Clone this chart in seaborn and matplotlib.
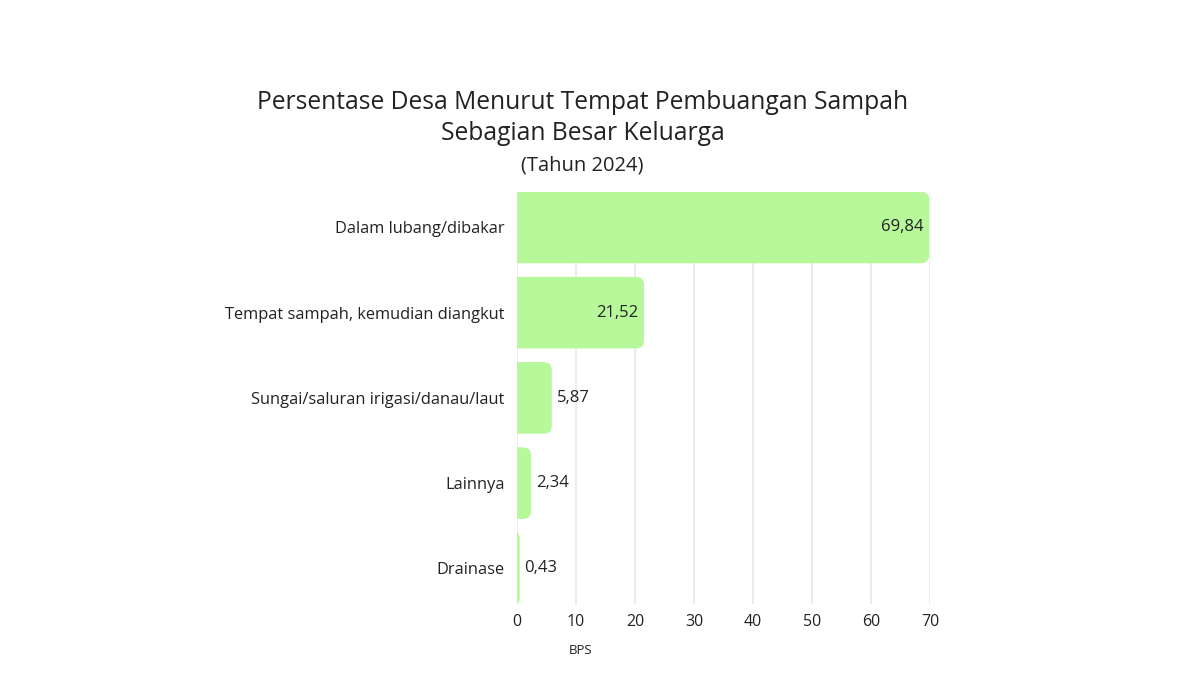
import numpy as np
import pandas as pd
import matplotlib
matplotlib.use("Agg")
import matplotlib.pyplot as plt
import seaborn as sns
from matplotlib.patches import FancyBboxPatch

categories = ["Dalam lubang/dibakar", "Tempat sampah, kemudian diangkut",
              "Sungai/saluran irigasi/danau/laut", "Lainnya", "Drainase"]
values = [69.84, 21.52, 5.87, 2.34, 0.43]
value_labels = ["69,84", "21,52", "5,87", "2,34", "0,43"]
xticks = [0, 10, 20, 30, 40, 50, 60, 70]

BAR_COLOR = "#b6f89a"
TEXT_COLOR = "#222222"

sns.set_theme(style="white")
plt.rcParams["font.family"] = ["Open Sans", "DejaVu Sans"]

df = pd.DataFrame({"kategori": categories, "nilai": values})

fig = plt.figure(figsize=(12, 6.75), dpi=100)
ax = fig.add_axes([0.431, 0.105, 0.344, 0.611])

sns.barplot(data=df, x="nilai", y="kategori", order=categories,
            color=BAR_COLOR, width=0.84, ax=ax, saturation=1)

ax.set_xlim(0, 70)
ax.set_ylim(len(categories) - 0.5 - 0.08, -0.5 + 0.08)

# swap plain bars for ones with rounded right corners
r = 1.4           # rounding in x data units
aspect = 0.096 / 1.4
for p in list(ax.patches):
    x0, y0 = p.get_x(), p.get_y()
    w, h = p.get_width(), p.get_height()
    p.remove()
    total = w + r
    rs = min(r, total / 2.0)
    box = FancyBboxPatch((-r, y0), total, h,
                         boxstyle=f"round,pad=0,rounding_size={rs}",
                         mutation_aspect=aspect,
                         facecolor=BAR_COLOR, edgecolor="none", zorder=2)
    box.set_clip_on(True)
    ax.add_patch(box)

for i, (v, lab) in enumerate(zip(values, value_labels)):
    if v > 15:
        ax.text(v - 1.0, i, lab, ha="right", va="center",
                fontsize=12, color=TEXT_COLOR, zorder=3)
    else:
        ax.text(v + 0.8, i, lab, ha="left", va="center",
                fontsize=12, color=TEXT_COLOR, zorder=3)

ax.set_xticks(xticks)
ax.xaxis.grid(True, color="#e8e8e8", linewidth=1.2, zorder=0)
ax.set_axisbelow(True)
for s in ax.spines.values():
    s.set_visible(False)
ax.tick_params(axis="both", length=0, colors=TEXT_COLOR)
ax.tick_params(axis="y", pad=9, labelsize=11.8)
ax.tick_params(axis="x", pad=7, labelsize=11.5)
ax.set_xlabel("")
ax.set_ylabel("")

fig.text(0.4855, 0.848, "Persentase Desa Menurut Tempat Pembuangan Sampah",
         ha="center", va="center", fontsize=17.7, color=TEXT_COLOR)
fig.text(0.4855, 0.802, "Sebagian Besar Keluarga",
         ha="center", va="center", fontsize=17.7, color=TEXT_COLOR)
fig.text(0.4855, 0.755, "(Tahun 2024)",
         ha="center", va="center", fontsize=14.5, color=TEXT_COLOR)
fig.text(0.4835, 0.036, "BPS", ha="center", va="center",
         fontsize=9.5, color=TEXT_COLOR)

fig.savefig("out.png", dpi=100, facecolor="white")
